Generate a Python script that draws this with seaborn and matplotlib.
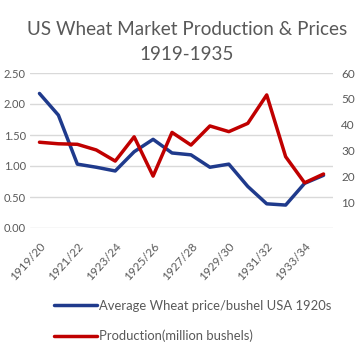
import matplotlib
matplotlib.use("Agg")
import matplotlib.pyplot as plt
import seaborn as sns
import pandas as pd
from matplotlib.lines import Line2D

seasons = ["1919/20", "1920/21", "1921/22", "1922/23", "1923/24", "1924/25", "1925/26", "1926/27",
           "1927/28", "1928/29", "1929/30", "1930/31", "1931/32", "1932/33", "1933/34", "1934/35"]
price = [2.17, 1.82, 1.03, 0.98, 0.92, 1.23, 1.43, 1.21, 1.18, 0.98, 1.03, 0.67, 0.39, 0.37, 0.72, 0.85]
production = [33.2, 32.6, 32.4, 30.2, 25.9, 35.3, 20.1, 37.0, 32.1, 39.5, 37.3, 40.5, 51.5, 27.6, 17.5, 20.9]
left_ticks = [0.0, 0.5, 1.0, 1.5, 2.0, 2.5]
right_ticks = [10, 20, 30, 40, 50, 60]
price_label = "Average Wheat price/bushel USA 1920s"
prod_label = "Production(million bushels)"
title = "US Wheat Market Production & Prices\n1919-1935"

df = pd.DataFrame({"idx": range(len(seasons)), "season": seasons, "price": price, "production": production})

sns.set_theme(style="white")
plt.rcParams["font.family"] = ["Lato", "DejaVu Sans"]

blue = "#1f3a8c"
red = "#c00000"
gray = "#595959"

fig = plt.figure(figsize=(3.56, 3.48), dpi=100)
ax = fig.add_axes([30/356, 1 - 228/348, 303/356, 155/348])
sns.lineplot(data=df, x="idx", y="price", ax=ax, color=blue, linewidth=2.5, legend=False)
ax2 = ax.twinx()
sns.lineplot(data=df, x="idx", y="production", ax=ax2, color=red, linewidth=2.5, legend=False)

ax.set_xlim(-0.5, len(seasons) - 0.5)
ax.set_ylim(0, 2.5)
ax2.set_ylim(0, 60)
ax.set_yticks(left_ticks)
ax.set_yticklabels([f"{v:.2f}" for v in left_ticks], color=gray, fontsize=8)
ax2.set_yticks(right_ticks)
ax2.set_yticklabels([str(v) for v in right_ticks], color=gray, fontsize=8.5)
ax.set_xticks(df["idx"][::2])
ax.set_xticklabels(df["season"][::2], rotation=48, ha="right", rotation_mode="anchor",
                   color=gray, fontsize=8.5)
ax.set_xlabel("")
ax.set_ylabel("")
ax2.set_ylabel("")
ax.yaxis.grid(True, color="#d9d9d9", linewidth=1)
ax.xaxis.grid(False)
ax2.grid(False)
for a in (ax, ax2):
    for s in a.spines.values():
        s.set_visible(False)
    a.tick_params(length=0)
ax.tick_params(axis="y", pad=3)
ax2.tick_params(axis="y", pad=6)
ax.tick_params(axis="x", pad=9)
ax2.set_zorder(ax.get_zorder() + 1)
ax2.patch.set_visible(False)

fig.text(187/356, 1 - 42/348, title, ha="center", va="center", fontsize=13.6, color=gray, linespacing=1.55)

handles = [Line2D([], [], color=blue, linewidth=2.5), Line2D([], [], color=red, linewidth=2.5)]
fig.legend(handles, [price_label, prod_label], loc="center left",
           bbox_to_anchor=(42/356, 1 - 321/348), frameon=False, fontsize=9.4,
           labelcolor=gray, handlelength=3.3, handletextpad=0.15, labelspacing=1.35)

fig.savefig("out.png", dpi=100)
